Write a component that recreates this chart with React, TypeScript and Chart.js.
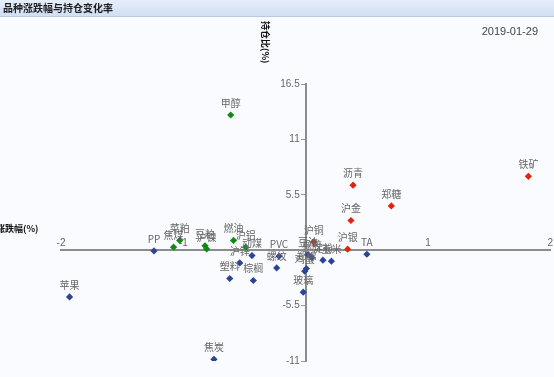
import React, { useEffect, useRef } from "react";
import { Chart, registerables } from "chart.js";

Chart.register(...registerables);

const TITLE = "品种涨跌幅与持仓变化率";
const DATE_LABEL = "2019-01-29";
const X_TITLE = "涨跌幅(%)";
const Y_TITLE = "持仓比(%)";

// rising price, rising open interest
const redNames = ["沥青", "郑糖", "沪金", "铁矿", "沪银", "沪铜"];
const redX = [0.387, 0.7, 0.37, 1.82, 0.343, 0.065];
const redY = [6.46, 4.4, 2.95, 7.33, 0.1, 0.83];

// falling price, rising open interest
const greenNames = ["甲醇", "焦煤", "菜粕", "豆粕", "沪镍", "燃油", "沪铝"];
const greenX = [-0.613, -1.08, -1.03, -0.823, -0.81, -0.59, -0.49];
const greenY = [13.42, 0.3, 0.97, 0.43, 0.13, 0.97, 0.3];

// falling open interest
const blueNames = ["PP", "TA", "苹果", "焦炭", "玻璃", "塑料", "棕榈", "螺纹", "PVC", "沪锌", "动煤", "豆油", "橡胶", "淀粉", "玉米", "郑棉", "鸡蛋"];
const blueX = [-1.24, 0.5, -1.93, -0.75, -0.02, -0.621, -0.428, -0.237, -0.218, -0.539, -0.439, 0.019, 0.051, 0.141, 0.21, 0.006, -0.008];
const blueY = [-0.07, -0.4, -4.64, -10.83, -4.17, -2.81, -3.01, -1.76, -0.6, -1.26, -0.53, -0.43, -0.73, -0.99, -1.09, -1.82, -2.09];

const xTicks = [-2, -1, 0, 1, 2];
const yTicks = [-11, -5.5, 0, 5.5, 11, 16.5];

const RED = "#e3210d";
const GREEN = "#118a14";
const BLUE = "#2b4596";

const toPoints = (xs: number[], ys: number[]) => xs.map((x, i) => ({ x, y: ys[i] }));

const decorPlugin = {
  id: "decor",
  beforeDraw(chart: any) {
    const ctx = chart.ctx as CanvasRenderingContext2D;
    const w = chart.width;
    const h = chart.height;
    ctx.save();
    ctx.fillStyle = "#fafbfe";
    ctx.fillRect(0, 0, w, h);
    const g = ctx.createLinearGradient(0, 0, 0, 17);
    g.addColorStop(0, "#e6eefa");
    g.addColorStop(1, "#cfdef2");
    ctx.fillStyle = g;
    ctx.fillRect(0, 0, w, 17);
    ctx.fillStyle = "#b7cbe6";
    ctx.fillRect(0, 16, w, 1);
    ctx.fillStyle = "#1e1e1e";
    ctx.font = "bold 10px 'Noto Sans CJK SC'";
    ctx.textBaseline = "middle";
    ctx.textAlign = "left";
    ctx.fillText(TITLE, 3, 8.5);
    ctx.fillStyle = "#444";
    ctx.font = "11px 'Liberation Sans'";
    ctx.textAlign = "right";
    ctx.fillText(DATE_LABEL, 538, 32);
    // x axis title
    ctx.fillStyle = "#111";
    ctx.font = "bold 9px 'Noto Sans CJK SC'";
    ctx.textAlign = "left";
    ctx.fillText(X_TITLE, -4, 229);
    // y axis title (rotated clockwise)
    ctx.translate(265, 21);
    ctx.rotate(Math.PI / 2);
    ctx.textBaseline = "middle";
    ctx.fillText(Y_TITLE, 0, 0);
    ctx.restore();
  },
  afterDraw(chart: any) {
    // y tick labels, placed left of the centred axis
    const ctx = chart.ctx as CanvasRenderingContext2D;
    const ys = chart.scales.y;
    const axisX = chart.scales.x.getPixelForValue(0);
    ctx.save();
    ctx.font = "10px 'Liberation Sans'";
    ctx.fillStyle = "#666";
    ctx.textAlign = "right";
    ctx.textBaseline = "middle";
    ys.ticks.forEach((t: any) => {
      if (t.value === 0) return;
      ctx.fillText(String(t.value), axisX - 6, ys.getPixelForValue(t.value));
    });
    ctx.restore();
  },
  afterDatasetsDraw(chart: any) {
    const ctx = chart.ctx as CanvasRenderingContext2D;
    ctx.save();
    ctx.font = "10px 'Noto Sans CJK SC'";
    ctx.fillStyle = "#666";
    ctx.textAlign = "center";
    ctx.textBaseline = "middle";
    chart.data.datasets.forEach((ds: any, di: number) => {
      const meta = chart.getDatasetMeta(di);
      meta.data.forEach((el: any, i: number) => {
        ctx.fillText(ds.names[i], el.x, el.y - 12);
      });
    });
    ctx.restore();
  },
};

export default function App() {
  const ref = useRef<HTMLCanvasElement | null>(null);
  useEffect(() => {
    if (!ref.current) return;
    const tickFont = { family: "'Liberation Sans'", size: 10 };
    const chart = new Chart(ref.current, {
      type: "scatter",
      data: {
        datasets: [
          { names: redNames, data: toPoints(redX, redY), backgroundColor: RED, borderColor: RED } as any,
          { names: greenNames, data: toPoints(greenX, greenY), backgroundColor: GREEN, borderColor: GREEN } as any,
          { names: blueNames, data: toPoints(blueX, blueY), backgroundColor: BLUE, borderColor: BLUE } as any,
        ],
      },
      options: {
        responsive: false,
        animation: false,
        devicePixelRatio: 1,
        layout: { padding: { left: 61, right: 3, top: 84, bottom: 16 } },
        elements: {
          point: { pointStyle: "rectRot", radius: 3.6, borderWidth: 0, hoverRadius: 3.6 },
        },
        plugins: {
          legend: { display: false },
          tooltip: { enabled: false },
        },
        scales: {
          x: {
            type: "linear",
            position: { y: 0 } as any,
            min: -2,
            max: 2,
            afterBuildTicks: (scale: any) => {
              scale.ticks = xTicks.map((v) => ({ value: v }));
            },
            grid: { display: false, drawTicks: false },
            border: { display: true, color: "#8c8c8c", width: 2 },
            ticks: {
              font: tickFont,
              color: "#666",
              padding: -13,
              maxRotation: 0,
              autoSkip: false,
              callback: (v: any) => (Number(v) === 0 ? "" : String(v)),
            },
          },
          y: {
            type: "linear",
            position: { x: 0 } as any,
            min: -11,
            max: 16.5,
            afterBuildTicks: (scale: any) => {
              scale.ticks = yTicks.map((v) => ({ value: v }));
            },
            grid: { display: true, drawOnChartArea: false, drawTicks: true, tickLength: 4, tickWidth: 1, tickColor: "#999", color: "#999" },
            border: { display: true, color: "#8c8c8c", width: 2 },
            ticks: { display: false },
          },
        },
      } as any,
      plugins: [decorPlugin],
    });
    return () => chart.destroy();
  }, []);
  return (
    <div style={{ position: "fixed", left: 0, top: 0, width: 554, height: 377 }}>
      <canvas ref={ref} width={554} height={377} style={{ width: 554, height: 377, display: "block" }} />
    </div>
  );
}
